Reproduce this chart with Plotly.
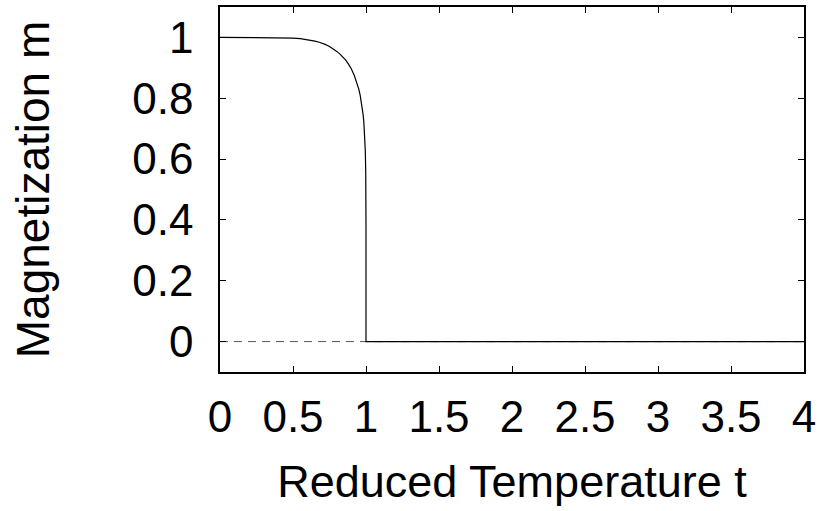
import plotly.graph_objects as go

# Spontaneous magnetization vs reduced temperature (2D Ising, Onsager curve)
t_vals = [0.0, 0.1, 0.2, 0.3, 0.4, 0.45, 0.5, 0.55, 0.6, 0.62, 0.65, 0.68,
          0.7, 0.72, 0.75, 0.78, 0.8, 0.82, 0.84, 0.86, 0.88, 0.9, 0.92,
          0.94, 0.95, 0.96, 0.97, 0.975, 0.98, 0.985, 0.99, 0.993, 0.995,
          0.998, 0.9995, 0.9999, 1.0, 1.5, 2.0, 2.5, 3.0, 3.5, 4.0]
m_vals = [1.0, 1.0, 1.0, 1.0, 0.9997, 0.9991, 0.998, 0.996, 0.993, 0.991,
          0.988, 0.984, 0.981, 0.977, 0.970, 0.961, 0.954, 0.946, 0.937,
          0.926, 0.912, 0.896, 0.875, 0.848, 0.831, 0.810, 0.783, 0.768,
          0.747, 0.723, 0.687, 0.657, 0.630, 0.562, 0.473, 0.387, 0.0,
          0.0, 0.0, 0.0, 0.0, 0.0, 0.0]

# Zero reference line
zero_t = [0.0, 4.0]
zero_m = [0.0, 0.0]

x_ticks = [0, 0.5, 1, 1.5, 2, 2.5, 3, 3.5, 4]
x_tick_text = ["0", "0.5", "1", "1.5", "2", "2.5", "3", "3.5", "4"]
y_ticks = [0, 0.2, 0.4, 0.6, 0.8, 1]
y_tick_text = ["0", "0.2", "0.4", "0.6", "0.8", "1"]

FONT = "Liberation Sans, Arial, Helvetica, sans-serif"

fig = go.Figure()
fig.add_trace(go.Scatter(
    x=zero_t, y=zero_m, mode="lines",
    line=dict(color="#555555", width=1, dash="8px,6px"),
    hoverinfo="skip", showlegend=False))
fig.add_trace(go.Scatter(
    x=t_vals, y=m_vals, mode="lines",
    line=dict(color="black", width=1.2),
    showlegend=False))

axis_common = dict(
    showline=True, linecolor="black", linewidth=1.5, mirror="ticks",
    ticks="inside", ticklen=6, tickwidth=1.2, tickcolor="black",
    showgrid=False, zeroline=False,
    tickfont=dict(family=FONT, size=44, color="black"),
)

fig.update_xaxes(
    range=[0, 4], tickvals=x_ticks, ticktext=x_tick_text,
    title=dict(text="Reduced Temperature t",
               font=dict(family=FONT, size=45, color="black"), standoff=26),
    ticklabelstandoff=5,
    **axis_common)
fig.update_yaxes(
    range=[-0.1, 1.1], tickvals=y_ticks, ticktext=y_tick_text,
    title=dict(text="Magnetization m",
               font=dict(family=FONT, size=46, color="black"), standoff=68),
    ticklabelstandoff=16,
    **axis_common)

fig.update_layout(
    width=821, height=511,
    margin=dict(l=220, r=15, t=5, b=139),
    paper_bgcolor="white", plot_bgcolor="white",
)

fig.write_html("out.html")
